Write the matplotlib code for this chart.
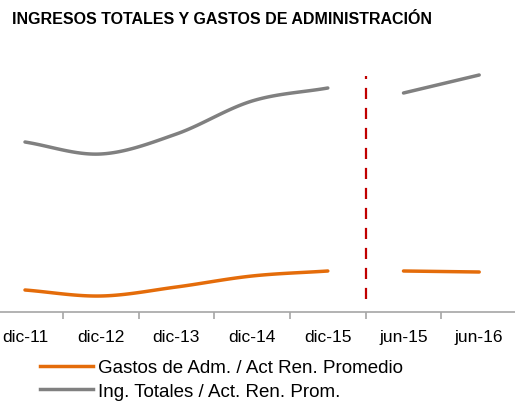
import matplotlib

matplotlib.use("Agg")
import matplotlib.pyplot as plt
import numpy as np
from matplotlib.lines import Line2D

plt.rcParams["font.family"] = ["Liberation Sans", "DejaVu Sans"]

# --- Data ---------------------------------------------------------------------
periods = ["dic-11", "dic-12", "dic-13", "dic-14", "dic-15", "jun-15", "jun-16"]
ing_totales = [170, 158, 178, 211, 224, 219, 237]   # Ing. Totales / Act. Ren. Prom.
gastos_adm = [22, 16, 25, 36, 41, 41, 40]           # Gastos de Adm. / Act Ren. Promedio
annual_n = 5   # first five points are annual, the rest semi-annual

ORANGE = "#E46C0A"
GRAY = "#808080"
RED = "#C00000"


def smooth(xs, ys, n=30):
    """Catmull-Rom style curve through the points (like Excel's smoothed line)."""
    xs = np.asarray(xs, float)
    ys = np.asarray(ys, float)
    if len(xs) < 3:
        return xs, ys
    px = np.concatenate([[2 * xs[0] - xs[1]], xs, [2 * xs[-1] - xs[-2]]])
    py = np.concatenate([[2 * ys[0] - ys[1]], ys, [2 * ys[-1] - ys[-2]]])
    out_x, out_y = [], []
    t = np.linspace(0, 1, n)
    for i in range(1, len(px) - 2):
        for p, out in ((px, out_x), (py, out_y)):
            p0, p1, p2, p3 = p[i - 1], p[i], p[i + 1], p[i + 2]
            seg = 0.5 * ((2 * p1) + (-p0 + p2) * t + (2 * p0 - 5 * p1 + 4 * p2 - p3) * t ** 2
                         + (-p0 + 3 * p1 - 3 * p2 + p3) * t ** 3)
            out.extend(seg)
    return np.array(out_x), np.array(out_y)


fig = plt.figure(figsize=(5.15, 4.02), dpi=100)
W, H = 515, 402
step = 75.7
left_px = 25 - step / 2
ax = fig.add_axes([left_px / W, (H - 313) / H, 7 * step / W, (313 - 60) / H])

x = np.arange(len(periods))
for vals, color in ((ing_totales, GRAY), (gastos_adm, ORANGE)):
    for sl in (slice(0, annual_n), slice(annual_n, None)):
        sx, sy = smooth(x[sl], vals[sl])
        ax.plot(sx, sy, color=color, lw=2.5, solid_capstyle="round")

# separator between annual and semi-annual periods
ax.plot([annual_n - 0.5] * 2, [13, 236], color=RED, lw=1.6, ls=(0, (5, 4)))

ax.set_xlim(-0.5, len(periods) - 0.5)
ax.set_ylim(0, 253)
ax.set_yticks([])
for side in ("left", "right", "top"):
    ax.spines[side].set_visible(False)
ax.spines["bottom"].set_color("#A6A6A6")
ax.spines["bottom"].set_linewidth(1.2)

ax.set_xticks(np.arange(0.5, len(periods) - 0.5), minor=False)
ax.set_xticklabels([])
ax.tick_params(axis="x", which="major", length=5, color="#A6A6A6", width=1.2)
ax.set_xticks(x, minor=True)
ax.set_xticklabels(periods, minor=True, fontsize=12.5)
ax.tick_params(axis="x", which="minor", length=0, pad=12)

fig.text(12 / W, 1 - 19 / H, "INGRESOS TOTALES Y GASTOS DE ADMINISTRACIÓN",
         fontsize=11.5, fontweight="bold", va="center", ha="left")

handles = [Line2D([], [], color=ORANGE, lw=2.5), Line2D([], [], color=GRAY, lw=2.5)]
labels = ["Gastos de Adm. / Act Ren. Promedio", "Ing. Totales / Act. Ren. Prom."]
fig.legend(handles, labels, loc="upper left", bbox_to_anchor=(40 / W, 1 - 360 / H),
           frameon=False, fontsize=13.5, handlelength=2.83, handletextpad=0.27,
           labelspacing=0.36, borderaxespad=0, borderpad=0)

fig.savefig("out.png", dpi=100)
